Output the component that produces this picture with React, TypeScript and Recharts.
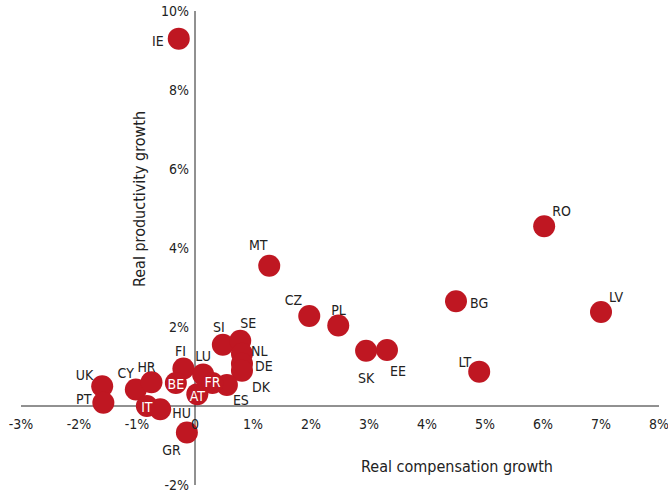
import { ScatterChart, Scatter, XAxis, YAxis, ReferenceLine } from "recharts";

const countries = ["IE", "MT", "RO", "BG", "LV", "CZ", "PL", "SK", "EE", "LT", "SI", "SE", "NL", "DE", "DK", "ES", "FI", "LU", "BE", "AT", "FR", "UK", "PT", "CY", "HR", "IT", "HU", "GR"];
const compensation = [-0.28, 1.28, 6.02, 4.5, 7.0, 1.97, 2.47, 2.95, 3.31, 4.9, 0.48, 0.78, 0.81, 0.81, 0.81, 0.55, -0.2, 0.14, -0.33, 0.04, 0.3, -1.6, -1.58, -1.02, -0.75, -0.83, -0.6, -0.14];
const productivity = [9.3, 3.55, 4.55, 2.65, 2.38, 2.28, 2.04, 1.4, 1.42, 0.87, 1.55, 1.65, 1.32, 1.07, 0.89, 0.53, 0.95, 0.8, 0.58, 0.3, 0.58, 0.5, 0.08, 0.42, 0.6, 0.0, -0.08, -0.67];
const xTicks = [-3, -2, -1, 0, 1, 2, 3, 4, 5, 6, 7, 8];
const yTicks = [-2, 0, 2, 4, 6, 8, 10];

const data = countries.map((c, i) => ({ name: c, x: compensation[i], y: productivity[i] }));

// label placement relative to the dot: dx, dy, anchor, inside (white)
const LABEL_POS: Record<string, [number, number, string, boolean?]> = {
  IE: [-15, 2, "end"],
  MT: [-11, -21, "middle"],
  RO: [8, -15, "start"],
  BG: [14, 2, "start"],
  LV: [8, -15, "start"],
  CZ: [-7, -16, "end"],
  PL: [-7, -15, "start"],
  SK: [0, 27, "middle"],
  EE: [3, 21, "start"],
  LT: [-8, -10, "end"],
  SI: [-4, -18, "middle"],
  SE: [0, -18, "start"],
  NL: [9, -3, "start"],
  DE: [13, 2, "start"],
  DK: [10, 16, "start"],
  ES: [14, 15, "middle"],
  FI: [-3, -17, "middle"],
  LU: [0, -18, "middle"],
  BE: [0, 1, "middle", true],
  AT: [0, 2, "middle", true],
  FR: [0, -1, "middle", true],
  UK: [-9, -11, "end"],
  PT: [-12, -4, "end"],
  CY: [-2, -16, "end"],
  HR: [-5, -15, "middle"],
  IT: [0, 1, "middle", true],
  HU: [12, 4, "start"],
  GR: [-6, 18, "end"],
};

const RED = "#bf1722";
const FONT = "'Liberation Sans Narrow', 'DejaVu Sans Condensed', sans-serif";
const W = 668;
const H = 492;
const M = { top: 11, right: 9, bottom: 6, left: 20 };
const AX = 1;
const PW = W - M.left - AX - M.right;
const PH = H - M.top - M.bottom - AX;
const zeroX = M.left + AX + (PW * 3) / 11;
const zeroY = M.top + (PH * 10) / 12;

const XTick = (props: any) => {
  const v = props.payload.value;
  return (
    <text x={props.x} y={zeroY + 18} textAnchor="middle" dominantBaseline="central" fontSize={14} fill="#222" fontFamily={FONT}>
      {v === 0 ? "0" : `${v}%`}
    </text>
  );
};

const YTick = (props: any) => {
  const v = props.payload.value;
  if (v === 0) return <g />;
  return (
    <text x={zeroX - 6} y={props.y} textAnchor="end" dominantBaseline="central" fontSize={14} fill="#222" fontFamily={FONT}>
      {`${v}%`}
    </text>
  );
};

const Dot = (props: any) => <circle cx={props.cx} cy={props.cy} r={11} fill={RED} />;

const Tag = (props: any) => {
  const p = LABEL_POS[props.payload.name] || [12, 0, "start"];
  return (
    <text
      x={props.cx + p[0]}
      y={props.cy + p[1]}
      textAnchor={p[2]}
      dominantBaseline="central"
      fontSize={14}
      fill={p[3] ? "#fff" : "#222"}
      fontFamily={FONT}
    >
      {props.payload.name}
    </text>
  );
};

export default function App() {
  return (
    <div style={{ position: "absolute", left: 0, top: 0, width: W, height: H, background: "#fff" }}>
      <ScatterChart width={W} height={H} margin={M}>
        <XAxis type="number" dataKey="x" domain={[-3, 8]} ticks={xTicks} height={AX} axisLine={false} tickLine={false} tick={(p: any) => <XTick {...p} />} interval={0} />
        <YAxis type="number" dataKey="y" domain={[-2, 10]} ticks={yTicks} width={AX} axisLine={false} tickLine={false} tick={(p: any) => <YTick {...p} />} interval={0} />
        <ReferenceLine y={0} stroke="#222" strokeWidth={1} />
        <ReferenceLine x={0} stroke="#222" strokeWidth={1} />
        <Scatter data={data} shape={Dot} isAnimationActive={false} />
        <Scatter data={data} shape={Tag} isAnimationActive={false} />
      </ScatterChart>
      <div style={{ position: "absolute", left: 357, top: 457, width: 200, textAlign: "center", fontFamily: FONT, fontSize: 16, color: "#222" }}>
        Real compensation growth
      </div>
      <div
        style={{
          position: "absolute",
          left: 140,
          top: 199,
          width: 200,
          marginLeft: -100,
          marginTop: -10,
          height: 20,
          lineHeight: "20px",
          textAlign: "center",
          transform: "rotate(-90deg)",
          fontFamily: FONT,
          fontSize: 16,
          color: "#222",
        }}
      >
        Real productivity growth
      </div>
    </div>
  );
}
